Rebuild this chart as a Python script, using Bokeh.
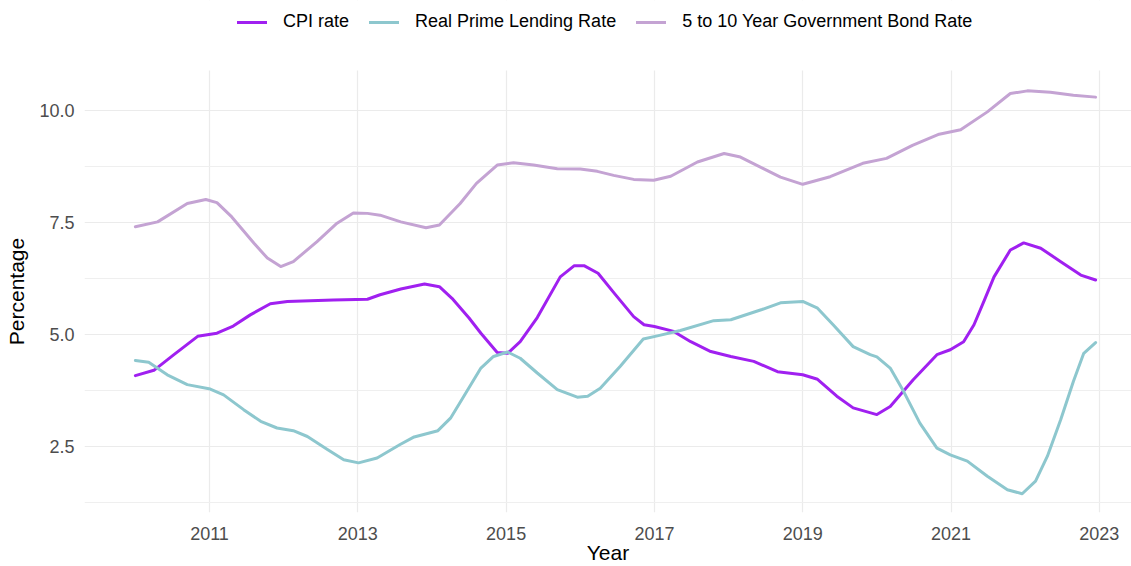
from bokeh.plotting import figure
from bokeh.models import (FixedTicker, NumeralTickFormatter, Legend, LegendItem, Range1d, BoxAnnotation)
from bokeh.embed import file_html
from bokeh.resources import INLINE

# ---- data ----
series_names = ["CPI rate", "Real Prime Lending Rate", "5 to 10 Year Government Bond Rate"]

cpi_year = [2010.0, 2010.25, 2010.52, 2010.84, 2011.1, 2011.32, 2011.55, 2011.82, 2012.05, 2012.67,
            2013.13, 2013.3, 2013.58, 2013.9, 2014.1, 2014.27, 2014.5, 2014.66, 2014.88, 2015.02,
            2015.19, 2015.42, 2015.73, 2015.92, 2016.05, 2016.24, 2016.46, 2016.72, 2016.86, 2017.0,
            2017.26, 2017.49, 2017.76, 2018.03, 2018.34, 2018.66, 2019.0, 2019.2, 2019.46, 2019.68,
            2020.0, 2020.18, 2020.49, 2020.81, 2020.99, 2021.17, 2021.31, 2021.45, 2021.58, 2021.8,
            2021.98, 2022.21, 2022.48, 2022.75, 2022.95]
cpi_rate = [4.08, 4.20, 4.55, 4.96, 5.03, 5.19, 5.44, 5.69, 5.74, 5.77,
            5.79, 5.89, 6.02, 6.13, 6.07, 5.81, 5.37, 5.03, 4.60, 4.58,
            4.84, 5.38, 6.29, 6.54, 6.54, 6.37, 5.92, 5.40, 5.22, 5.18,
            5.07, 4.84, 4.62, 4.51, 4.40, 4.17, 4.10, 4.00, 3.62, 3.36,
            3.21, 3.39, 3.99, 4.55, 4.66, 4.84, 5.22, 5.77, 6.29, 6.89,
            7.05, 6.93, 6.63, 6.33, 6.22]

prime_year = [2010.0, 2010.18, 2010.43, 2010.7, 2011.01, 2011.19, 2011.46, 2011.69, 2011.91, 2012.13,
              2012.32, 2012.59, 2012.81, 2013.01, 2013.26, 2013.57, 2013.76, 2014.08, 2014.25, 2014.43,
              2014.66, 2014.83, 2015.02, 2015.19, 2015.42, 2015.69, 2015.96, 2016.1, 2016.27, 2016.54,
              2016.85, 2017.04, 2017.35, 2017.8, 2018.03, 2018.45, 2018.7, 2019.0, 2019.2, 2019.41,
              2019.68, 2019.91, 2020.0, 2020.18, 2020.36, 2020.58, 2020.81, 2020.99, 2021.22, 2021.49,
              2021.76, 2021.96, 2022.14, 2022.3, 2022.48, 2022.65, 2022.79, 2022.95]
prime_rate = [4.42, 4.38, 4.10, 3.88, 3.78, 3.65, 3.32, 3.06, 2.91, 2.85,
              2.72, 2.43, 2.20, 2.13, 2.24, 2.54, 2.71, 2.85, 3.13, 3.62,
              4.25, 4.51, 4.61, 4.47, 4.14, 3.77, 3.60, 3.62, 3.80, 4.29,
              4.90, 4.97, 5.09, 5.31, 5.33, 5.56, 5.71, 5.74, 5.59, 5.22,
              4.73, 4.55, 4.50, 4.25, 3.73, 3.02, 2.46, 2.31, 2.17, 1.83,
              1.53, 1.44, 1.72, 2.28, 3.10, 3.95, 4.58, 4.82]

bond_year = [2010.0, 2010.3, 2010.7, 2010.95, 2011.1, 2011.3, 2011.6, 2011.78, 2011.96, 2012.13,
             2012.45, 2012.72, 2012.94, 2013.13, 2013.3, 2013.58, 2013.92, 2014.1, 2014.38, 2014.6,
             2014.88, 2015.1, 2015.37, 2015.69, 2016.0, 2016.23, 2016.45, 2016.72, 2016.99, 2017.22,
             2017.58, 2017.94, 2018.16, 2018.47, 2018.7, 2019.0, 2019.37, 2019.81, 2020.13, 2020.48,
             2020.84, 2021.13, 2021.49, 2021.8, 2022.03, 2022.34, 2022.65, 2022.95]
bond_rate = [7.41, 7.52, 7.93, 8.02, 7.95, 7.63, 7.04, 6.71, 6.52, 6.63,
             7.08, 7.49, 7.72, 7.71, 7.67, 7.52, 7.39, 7.45, 7.93, 8.38,
             8.79, 8.84, 8.79, 8.71, 8.70, 8.65, 8.56, 8.47, 8.45, 8.54,
             8.86, 9.05, 8.97, 8.71, 8.52, 8.36, 8.53, 8.83, 8.94, 9.23,
             9.48, 9.58, 9.98, 10.39, 10.45, 10.42, 10.35, 10.31]

x_ticks = [2011, 2013, 2015, 2017, 2019, 2021, 2023]
x_tick_labels = ["2011", "2013", "2015", "2017", "2019", "2021", "2023"]
y_ticks = [2.5, 5.0, 7.5, 10.0]
y_minor = [1.25, 3.75, 6.25, 8.75]

colors = ["#A020F0", "#8DC7CE", "#C4A3D3"]
FONT = "Liberation Sans"

# plotting-panel value limits; the frame extends above the panel to hold the legend
panel_bottom, panel_top = 1.02, 10.908

p = figure(width=1131, height=566, output_backend="svg", toolbar_location=None,
           x_range=Range1d(2009.314, 2023.434), y_range=Range1d(panel_bottom, 12.471),
           min_border_left=84, min_border_top=0, min_border_right=0, min_border_bottom=53,
           background_fill_color="white", border_fill_color="white")
p.outline_line_color = None

renderers = []
for xs, ys, c in [(cpi_year, cpi_rate, colors[0]), (prime_year, prime_rate, colors[1]),
                  (bond_year, bond_rate, colors[2])]:
    r = p.line(xs, ys, line_color=c, line_width=3, line_join="round", line_cap="round")
    renderers.append(r)

# white area above the plotting panel (legend strip): hides grid lines there
p.add_layout(BoxAnnotation(bottom=panel_top, fill_color="white", fill_alpha=1.0,
                           line_color=None, level="glyph"))

# axes
p.xaxis.ticker = FixedTicker(ticks=x_ticks)
p.xaxis.major_label_overrides = {t: l for t, l in zip(x_ticks, x_tick_labels)}
p.yaxis.ticker = FixedTicker(ticks=y_ticks, minor_ticks=y_minor)
p.yaxis.formatter = NumeralTickFormatter(format="0.0")
for ax in (p.xaxis, p.yaxis):
    ax.axis_line_color = None
    ax.major_tick_line_color = None
    ax.minor_tick_line_color = None
    ax.major_tick_out = 0
    ax.major_tick_in = 0
    ax.minor_tick_out = 0
    ax.minor_tick_in = 0
    ax.major_label_text_font = FONT
    ax.major_label_text_font_size = "18px"
    ax.major_label_text_color = "#4D4D4D"
    ax.axis_label_text_font = FONT
    ax.axis_label_text_font_size = "21px"
    ax.axis_label_text_font_style = "normal"
    ax.axis_label_text_color = "black"
p.xaxis.axis_label = "Year"
# trailing no-break spaces keep the rotated title centred on the plotting panel
# (the frame also spans the legend strip above the panel)
p.yaxis.axis_label = "Percentage" + "\u00a0" * 12
p.xaxis.major_label_standoff = 14
p.xaxis.axis_label_standoff = -2
p.yaxis.major_label_standoff = 10
p.yaxis.axis_label_standoff = 8

# grid
p.xgrid.ticker = FixedTicker(ticks=x_ticks)
p.xgrid.grid_line_color = "#EBEBEB"
p.xgrid.grid_line_width = 1.2
p.ygrid.grid_line_color = "#EBEBEB"
p.ygrid.grid_line_width = 1.2
p.ygrid.minor_grid_line_color = "#EFEFEF"
p.ygrid.minor_grid_line_width = 1

legend = Legend(items=[LegendItem(label=n, renderers=[r]) for n, r in zip(series_names, renderers)],
                orientation="horizontal", location=(153, 480),
                glyph_width=30, glyph_height=20, label_standoff=16, spacing=20,
                padding=0, margin=0, border_line_color=None, background_fill_alpha=0,
                label_text_font=FONT, label_text_font_size="18px", label_text_color="black")
p.add_layout(legend, "center")

open("out.html", "w").write(file_html(p, INLINE))
